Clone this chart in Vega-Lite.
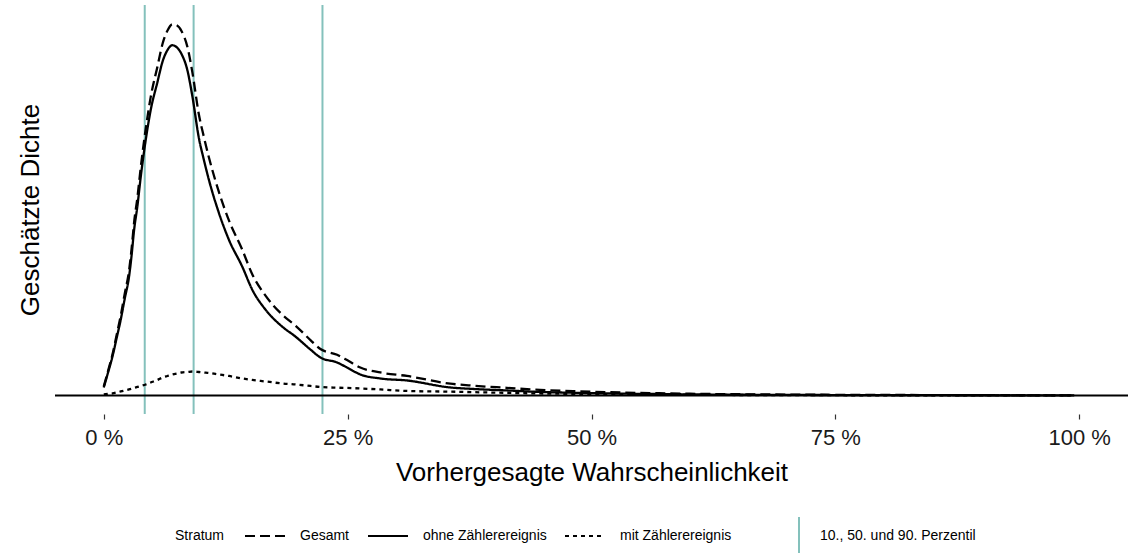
{
  "$schema": "https://vega.github.io/schema/vega-lite/v6.json",
  "width": 1073,
  "height": 409,
  "autosize": {"type": "none"},
  "padding": {"left": 55, "top": 5, "right": 8, "bottom": 139},
  "background": "white",
  "config": {"font": "Liberation Sans", "view": {"stroke": null}, "axis": {"grid": false}},
  "datasets": {
    "pct": [
      {"p": 4.2, "lab": "10., 50. und 90. Perzentil"},
      {"p": 9.21, "lab": "10., 50. und 90. Perzentil"},
      {"p": 22.42, "lab": "10., 50. und 90. Perzentil"}
    ],
    "base": [{"d": 0}],
    "dens": [
      {"p": 0, "stratum": "ohne Zählerereignis", "d": 8},
      {"p": 0.41, "stratum": "ohne Zählerereignis", "d": 22},
      {"p": 0.89, "stratum": "ohne Zählerereignis", "d": 39},
      {"p": 1.33, "stratum": "ohne Zählerereignis", "d": 58},
      {"p": 1.74, "stratum": "ohne Zählerereignis", "d": 76},
      {"p": 2.15, "stratum": "ohne Zählerereignis", "d": 97},
      {"p": 2.59, "stratum": "ohne Zählerereignis", "d": 119},
      {"p": 2.87, "stratum": "ohne Zählerereignis", "d": 142},
      {"p": 3.10, "stratum": "ohne Zählerereignis", "d": 165},
      {"p": 3.45, "stratum": "ohne Zählerereignis", "d": 190},
      {"p": 3.79, "stratum": "ohne Zählerereignis", "d": 219},
      {"p": 4.30, "stratum": "ohne Zählerereignis", "d": 256},
      {"p": 4.81, "stratum": "ohne Zählerereignis", "d": 286},
      {"p": 5.50, "stratum": "ohne Zählerereignis", "d": 314},
      {"p": 6.04, "stratum": "ohne Zählerereignis", "d": 335},
      {"p": 6.52, "stratum": "ohne Zählerereignis", "d": 346},
      {"p": 7.03, "stratum": "ohne Zählerereignis", "d": 351},
      {"p": 7.47, "stratum": "ohne Zählerereignis", "d": 349},
      {"p": 7.98, "stratum": "ohne Zählerereignis", "d": 342},
      {"p": 8.57, "stratum": "ohne Zählerereignis", "d": 326},
      {"p": 9.08, "stratum": "ohne Zählerereignis", "d": 300},
      {"p": 9.75, "stratum": "ohne Zählerereignis", "d": 258},
      {"p": 10.24, "stratum": "ohne Zählerereignis", "d": 237},
      {"p": 10.78, "stratum": "ohne Zählerereignis", "d": 216},
      {"p": 11.80, "stratum": "ohne Zählerereignis", "d": 183},
      {"p": 12.83, "stratum": "ohne Zählerereignis", "d": 156},
      {"p": 14.20, "stratum": "ohne Zählerereignis", "d": 129},
      {"p": 15.22, "stratum": "ohne Zählerereignis", "d": 106},
      {"p": 16.58, "stratum": "ohne Zählerereignis", "d": 86},
      {"p": 18.29, "stratum": "ohne Zählerereignis", "d": 69},
      {"p": 19.65, "stratum": "ohne Zählerereignis", "d": 59},
      {"p": 21.19, "stratum": "ohne Zählerereignis", "d": 46},
      {"p": 22.21, "stratum": "ohne Zählerereignis", "d": 38},
      {"p": 23.92, "stratum": "ohne Zählerereignis", "d": 33},
      {"p": 24.94, "stratum": "ohne Zählerereignis", "d": 28},
      {"p": 26.30, "stratum": "ohne Zählerereignis", "d": 21},
      {"p": 28.35, "stratum": "ohne Zählerereignis", "d": 17},
      {"p": 31.08, "stratum": "ohne Zählerereignis", "d": 15},
      {"p": 35.52, "stratum": "ohne Zählerereignis", "d": 8},
      {"p": 37.87, "stratum": "ohne Zählerereignis", "d": 6.5},
      {"p": 41.32, "stratum": "ohne Zählerereignis", "d": 5},
      {"p": 44.73, "stratum": "ohne Zählerereignis", "d": 3.5},
      {"p": 48.11, "stratum": "ohne Zählerereignis", "d": 2.7},
      {"p": 51.89, "stratum": "ohne Zählerereignis", "d": 2},
      {"p": 55.99, "stratum": "ohne Zählerereignis", "d": 1.5},
      {"p": 61.11, "stratum": "ohne Zählerereignis", "d": 1},
      {"p": 71.34, "stratum": "ohne Zählerereignis", "d": 0.5},
      {"p": 81.58, "stratum": "ohne Zählerereignis", "d": 0.3},
      {"p": 91.81, "stratum": "ohne Zählerereignis", "d": 0.15},
      {"p": 99.49, "stratum": "ohne Zählerereignis", "d": 0.05},

      {"p": 0, "stratum": "mit Zählerereignis", "d": 1},
      {"p": 0.41, "stratum": "mit Zählerereignis", "d": 1.5},
      {"p": 0.89, "stratum": "mit Zählerereignis", "d": 2},
      {"p": 1.33, "stratum": "mit Zählerereignis", "d": 3},
      {"p": 1.74, "stratum": "mit Zählerereignis", "d": 4},
      {"p": 2.15, "stratum": "mit Zählerereignis", "d": 5},
      {"p": 2.59, "stratum": "mit Zählerereignis", "d": 6},
      {"p": 2.87, "stratum": "mit Zählerereignis", "d": 6.8},
      {"p": 3.10, "stratum": "mit Zählerereignis", "d": 7.5},
      {"p": 3.45, "stratum": "mit Zählerereignis", "d": 8.5},
      {"p": 3.79, "stratum": "mit Zählerereignis", "d": 9.5},
      {"p": 4.30, "stratum": "mit Zählerereignis", "d": 11},
      {"p": 4.81, "stratum": "mit Zählerereignis", "d": 13},
      {"p": 5.50, "stratum": "mit Zählerereignis", "d": 15.5},
      {"p": 6.04, "stratum": "mit Zählerereignis", "d": 18},
      {"p": 6.52, "stratum": "mit Zählerereignis", "d": 19.5},
      {"p": 7.03, "stratum": "mit Zählerereignis", "d": 21},
      {"p": 7.47, "stratum": "mit Zählerereignis", "d": 22},
      {"p": 7.98, "stratum": "mit Zählerereignis", "d": 23},
      {"p": 8.57, "stratum": "mit Zählerereignis", "d": 23.5},
      {"p": 9.08, "stratum": "mit Zählerereignis", "d": 24},
      {"p": 9.75, "stratum": "mit Zählerereignis", "d": 23.5},
      {"p": 10.24, "stratum": "mit Zählerereignis", "d": 23},
      {"p": 10.78, "stratum": "mit Zählerereignis", "d": 22.5},
      {"p": 11.80, "stratum": "mit Zählerereignis", "d": 21},
      {"p": 12.83, "stratum": "mit Zählerereignis", "d": 19.5},
      {"p": 14.20, "stratum": "mit Zählerereignis", "d": 17},
      {"p": 15.22, "stratum": "mit Zählerereignis", "d": 15.5},
      {"p": 16.58, "stratum": "mit Zählerereignis", "d": 14},
      {"p": 18.29, "stratum": "mit Zählerereignis", "d": 12},
      {"p": 19.65, "stratum": "mit Zählerereignis", "d": 11},
      {"p": 21.19, "stratum": "mit Zählerereignis", "d": 9.5},
      {"p": 22.21, "stratum": "mit Zählerereignis", "d": 8.5},
      {"p": 23.92, "stratum": "mit Zählerereignis", "d": 7.8},
      {"p": 24.94, "stratum": "mit Zählerereignis", "d": 7.5},
      {"p": 26.30, "stratum": "mit Zählerereignis", "d": 7},
      {"p": 28.35, "stratum": "mit Zählerereignis", "d": 6},
      {"p": 31.08, "stratum": "mit Zählerereignis", "d": 4.5},
      {"p": 35.52, "stratum": "mit Zählerereignis", "d": 3.8},
      {"p": 37.87, "stratum": "mit Zählerereignis", "d": 3.3},
      {"p": 41.32, "stratum": "mit Zählerereignis", "d": 2.6},
      {"p": 44.73, "stratum": "mit Zählerereignis", "d": 2},
      {"p": 48.11, "stratum": "mit Zählerereignis", "d": 1.6},
      {"p": 51.89, "stratum": "mit Zählerereignis", "d": 1.2},
      {"p": 55.99, "stratum": "mit Zählerereignis", "d": 0.9},
      {"p": 61.11, "stratum": "mit Zählerereignis", "d": 0.6},
      {"p": 71.34, "stratum": "mit Zählerereignis", "d": 0.3},
      {"p": 81.58, "stratum": "mit Zählerereignis", "d": 0.15},
      {"p": 91.81, "stratum": "mit Zählerereignis", "d": 0.08},
      {"p": 99.49, "stratum": "mit Zählerereignis", "d": 0.03},

      {"p": 0, "stratum": "Gesamt", "d": 9},
      {"p": 0.41, "stratum": "Gesamt", "d": 23.5},
      {"p": 0.89, "stratum": "Gesamt", "d": 41},
      {"p": 1.33, "stratum": "Gesamt", "d": 61},
      {"p": 1.74, "stratum": "Gesamt", "d": 80},
      {"p": 2.15, "stratum": "Gesamt", "d": 102},
      {"p": 2.59, "stratum": "Gesamt", "d": 125},
      {"p": 2.87, "stratum": "Gesamt", "d": 148.8},
      {"p": 3.10, "stratum": "Gesamt", "d": 172.5},
      {"p": 3.45, "stratum": "Gesamt", "d": 198.5},
      {"p": 3.79, "stratum": "Gesamt", "d": 228.5},
      {"p": 4.30, "stratum": "Gesamt", "d": 267},
      {"p": 4.81, "stratum": "Gesamt", "d": 299},
      {"p": 5.50, "stratum": "Gesamt", "d": 329.5},
      {"p": 6.04, "stratum": "Gesamt", "d": 353},
      {"p": 6.52, "stratum": "Gesamt", "d": 365.5},
      {"p": 7.03, "stratum": "Gesamt", "d": 372},
      {"p": 7.47, "stratum": "Gesamt", "d": 371},
      {"p": 7.98, "stratum": "Gesamt", "d": 365},
      {"p": 8.57, "stratum": "Gesamt", "d": 349.5},
      {"p": 9.08, "stratum": "Gesamt", "d": 324},
      {"p": 9.75, "stratum": "Gesamt", "d": 281.5},
      {"p": 10.24, "stratum": "Gesamt", "d": 260},
      {"p": 10.78, "stratum": "Gesamt", "d": 238.5},
      {"p": 11.80, "stratum": "Gesamt", "d": 204},
      {"p": 12.83, "stratum": "Gesamt", "d": 175.5},
      {"p": 14.20, "stratum": "Gesamt", "d": 146},
      {"p": 15.22, "stratum": "Gesamt", "d": 121.5},
      {"p": 16.58, "stratum": "Gesamt", "d": 100},
      {"p": 18.29, "stratum": "Gesamt", "d": 81},
      {"p": 19.65, "stratum": "Gesamt", "d": 70},
      {"p": 21.19, "stratum": "Gesamt", "d": 55.5},
      {"p": 22.21, "stratum": "Gesamt", "d": 46.5},
      {"p": 23.92, "stratum": "Gesamt", "d": 40.8},
      {"p": 24.94, "stratum": "Gesamt", "d": 35.5},
      {"p": 26.30, "stratum": "Gesamt", "d": 28},
      {"p": 28.35, "stratum": "Gesamt", "d": 23},
      {"p": 31.08, "stratum": "Gesamt", "d": 19.5},
      {"p": 35.52, "stratum": "Gesamt", "d": 11.8},
      {"p": 37.87, "stratum": "Gesamt", "d": 9.8},
      {"p": 41.32, "stratum": "Gesamt", "d": 7.6},
      {"p": 44.73, "stratum": "Gesamt", "d": 5.5},
      {"p": 48.11, "stratum": "Gesamt", "d": 4.3},
      {"p": 51.89, "stratum": "Gesamt", "d": 3.2},
      {"p": 55.99, "stratum": "Gesamt", "d": 2.4},
      {"p": 61.11, "stratum": "Gesamt", "d": 1.6},
      {"p": 71.34, "stratum": "Gesamt", "d": 0.8},
      {"p": 81.58, "stratum": "Gesamt", "d": 0.45},
      {"p": 91.81, "stratum": "Gesamt", "d": 0.23},
      {"p": 99.49, "stratum": "Gesamt", "d": 0.08}
    ]
  },
  "layer": [
    {
      "data": {"name": "pct"},
      "mark": {"type": "rule", "strokeWidth": 2},
      "encoding": {
        "x": {
          "field": "p", "type": "quantitative",
          "scale": {"domain": [-5, 105], "nice": false, "zero": false},
          "axis": {
            "values": [0, 25, 50, 75, 100],
            "labelExpr": "datum.value + ' %'",
            "title": "Vorhergesagte Wahrscheinlichkeit",
            "domain": false, "grid": false,
            "tickSize": 5, "tickColor": "#333333", "tickWidth": 1.2,
            "labelFontSize": 22, "labelPadding": 8, "labelColor": "#1a1a1a",
            "titleFontSize": 26, "titleFontWeight": "normal", "titleColor": "black",
            "titlePadding": 11
          }
        },
        "color": {
          "field": "lab", "type": "nominal",
          "scale": {"range": ["#84C1BC"]},
          "legend": {
            "orient": "none", "legendX": 724, "legendY": 511, "title": null,
            "symbolType": "M0,-1L0,1", "symbolSize": 1444, "symbolStrokeWidth": 2,
            "labelFontSize": 14, "labelOffset": 1, "labelLimit": 400, "labelColor": "black"
          }
        }
      }
    },
    {
      "data": {"name": "dens"},
      "mark": {"type": "line", "color": "black", "strokeWidth": 2.3, "interpolate": "monotone"},
      "encoding": {
        "x": {"field": "p", "type": "quantitative"},
        "y": {
          "field": "d", "type": "quantitative",
          "scale": {"domain": [-18.6, 391.3], "nice": false, "zero": false},
          "axis": {
            "title": "Geschätzte Dichte", "labels": false, "ticks": false, "domain": false, "grid": false,
            "titleFontSize": 26, "titleFontWeight": "normal", "titleColor": "black",
            "titleX": -25, "titleY": 204.5, "titleAngle": -90, "titleAlign": "center", "titleBaseline": "middle"
          }
        },
        "strokeDash": {
          "field": "stratum", "type": "nominal",
          "scale": {"domain": ["Gesamt", "ohne Zählerereignis", "mit Zählerereignis"], "range": [[10, 5], [1, 0], [4, 4]]},
          "legend": {
            "orient": "none", "legendX": 120, "legendY": 510, "direction": "horizontal",
            "title": "Stratum", "titleOrient": "left", "titleFontSize": 14, "titleFontWeight": "normal",
            "titlePadding": 19, "titleColor": "black", "titleAnchor": "middle", "titleBaseline": "top",
            "symbolSize": 1600, "symbolStrokeWidth": 2, "symbolStrokeColor": "black",
            "labelFontSize": 14, "labelOffset": 14, "columnPadding": 14, "labelColor": "black"
          }
        }
      }
    },
    {
      "data": {"name": "base"},
      "mark": {"type": "rule", "color": "black", "strokeWidth": 2},
      "encoding": {"y": {"field": "d", "type": "quantitative"}}
    }
  ]
}
